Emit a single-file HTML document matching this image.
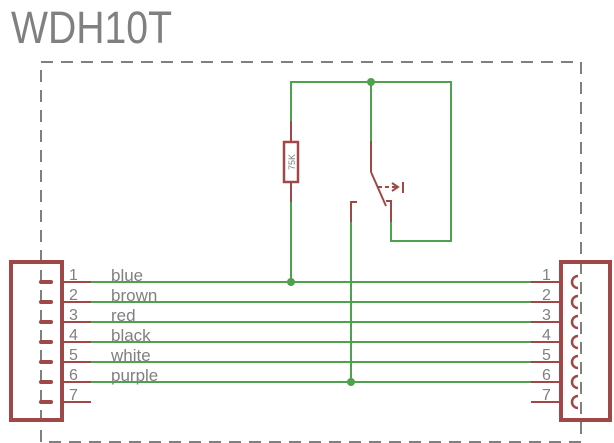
<!DOCTYPE html>
<html><head><meta charset="utf-8"><style>body{margin:0;background:#fff}svg{display:block}</style></head><body>
<svg width="614" height="443" viewBox="0 0 614 443" xmlns="http://www.w3.org/2000/svg" font-family="Liberation Sans, sans-serif">
<text x="11" y="43" font-size="45" fill="#808080" textLength="161" lengthAdjust="spacingAndGlyphs">WDH10T</text>
<rect x="41" y="62" width="540" height="380" fill="none" stroke="#808080" stroke-width="2" stroke-dasharray="12,8"/>
<g stroke="#4ea24e" stroke-width="2" fill="none">
<polyline points="291,121 291,82 451,82 451,241 391,241 391,222"/>
<line x1="371" y1="82" x2="371" y2="141"/>
<line x1="291" y1="202" x2="291" y2="282"/>
<line x1="351" y1="222" x2="351" y2="382"/>
<line x1="91" y1="282" x2="531" y2="282"/>
<line x1="91" y1="302" x2="531" y2="302"/>
<line x1="91" y1="322" x2="531" y2="322"/>
<line x1="91" y1="342" x2="531" y2="342"/>
<line x1="91" y1="362" x2="531" y2="362"/>
<line x1="91" y1="382" x2="531" y2="382"/>
</g>
<g fill="#4ea24e"><circle cx="371" cy="82" r="4"/><circle cx="291" cy="282" r="4"/><circle cx="351" cy="382" r="4"/></g>
<g stroke="#a04848" stroke-width="2" fill="none">
<line x1="291" y1="121" x2="291" y2="202"/>
<rect x="284" y="142" width="14" height="40" fill="#fff" stroke-width="2.5"/>
<line x1="371" y1="141" x2="371" y2="172"/>
<line x1="371" y1="172" x2="386" y2="206"/>
<polyline points="386,201 391,201 391,222"/>
<polyline points="357,202 351,202 351,222"/>
<line x1="378" y1="187" x2="398" y2="187" stroke-dasharray="4,3"/>
<polyline points="392,183 398,187 392,191"/>
<line x1="403" y1="182" x2="403" y2="193"/>
<rect x="11" y="262" width="51" height="158" stroke-width="4"/>
<rect x="561" y="262" width="49" height="158" stroke-width="4"/>
<line x1="62" y1="282" x2="91" y2="282"/><line x1="62" y1="302" x2="91" y2="302"/><line x1="62" y1="322" x2="91" y2="322"/><line x1="62" y1="342" x2="91" y2="342"/><line x1="62" y1="362" x2="91" y2="362"/><line x1="62" y1="382" x2="91" y2="382"/><line x1="62" y1="402" x2="91" y2="402"/>
<line x1="531" y1="282" x2="561" y2="282"/><line x1="531" y1="302" x2="561" y2="302"/><line x1="531" y1="322" x2="561" y2="322"/><line x1="531" y1="342" x2="561" y2="342"/><line x1="531" y1="362" x2="561" y2="362"/><line x1="531" y1="382" x2="561" y2="382"/><line x1="531" y1="402" x2="561" y2="402"/>
</g>
<g stroke="#a04848" stroke-width="4" stroke-linecap="round">
<line x1="41" y1="282" x2="51" y2="282"/><line x1="41" y1="302" x2="51" y2="302"/><line x1="41" y1="322" x2="51" y2="322"/><line x1="41" y1="342" x2="51" y2="342"/><line x1="41" y1="362" x2="51" y2="362"/><line x1="41" y1="382" x2="51" y2="382"/><line x1="41" y1="402" x2="51" y2="402"/>
</g>
<g stroke="#a04848" stroke-width="2.5" fill="none">
<path d="M578,276 A6,6 0 0 0 578,288"/><path d="M578,296 A6,6 0 0 0 578,308"/><path d="M578,316 A6,6 0 0 0 578,328"/><path d="M578,336 A6,6 0 0 0 578,348"/><path d="M578,356 A6,6 0 0 0 578,368"/><path d="M578,376 A6,6 0 0 0 578,388"/><path d="M578,396 A6,6 0 0 0 578,408"/>
</g>
<text transform="translate(295,162) rotate(-90)" font-size="9" fill="#808080" text-anchor="middle">75K</text>
<g font-size="16" fill="#808080">
<text x="69" y="280">1</text><text x="69" y="300">2</text><text x="69" y="320">3</text><text x="69" y="340">4</text><text x="69" y="360">5</text><text x="69" y="380">6</text><text x="69" y="400">7</text>
<text x="542" y="280">1</text><text x="542" y="300">2</text><text x="542" y="320">3</text><text x="542" y="340">4</text><text x="542" y="360">5</text><text x="542" y="380">6</text><text x="542" y="400">7</text>
</g>
<g font-size="17" fill="#808080">
<text x="111" y="281">blue</text><text x="111" y="301">brown</text><text x="111" y="321">red</text><text x="111" y="341">black</text><text x="111" y="361">white</text><text x="111" y="381">purple</text>
</g>
</svg>
</body></html>
